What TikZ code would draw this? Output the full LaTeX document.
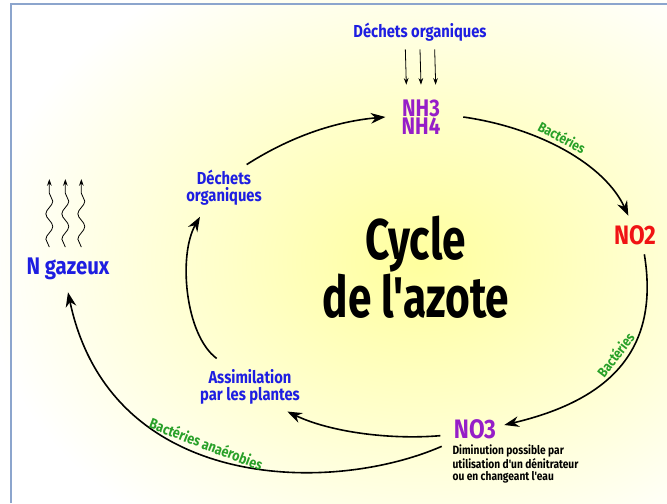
\documentclass[tikz,border=0pt]{standalone}
\usepackage{fontspec}
\usepackage{xcolor}
\usetikzlibrary{arrows.meta,decorations.pathmorphing}
\newfontfamily\comicfont[FakeStretch=0.85]{Fira Sans}
\newfontfamily\titlefont[FakeStretch=0.74]{Fira Sans}
\definecolor{DechetBlue}{RGB}{30,30,225}
\definecolor{AmmoPurple}{RGB}{150,30,200}
\definecolor{NitriteRed}{RGB}{240,20,20}
\definecolor{BactGreen}{RGB}{40,160,40}
\definecolor{FrameBlue}{RGB}{140,165,205}
\tikzset{
    lbl/.style={inner sep=1pt, align=center},
    bluelbl/.style={lbl, text=DechetBlue, font=\comicfont\bfseries\fontsize{13}{13}\selectfont},
    ionlbl/.style={lbl, font=\comicfont\bfseries\fontsize{20}{20}\selectfont},
    cyclearrow/.style={line width=1.2pt, -{Stealth[length=11pt,width=8pt]}},
    droparrow/.style={line width=0.6pt, -{Stealth[length=5pt,width=3.5pt]}},
    gasarrow/.style={line width=0.6pt, -{Stealth[length=5pt,width=3.5pt]},
        decorate, decoration={snake, amplitude=2.6pt, segment length=19pt, post length=5pt}},
    bactlbl/.style={sloped, above, inner sep=3pt, text=BactGreen,
        font=\comicfont\bfseries\fontsize{10.5}{10.5}\selectfont}
}
\begin{document}
\begin{tikzpicture}[x=0.75pt,y=-0.75pt]
                    \useasboundingbox (0,0) rectangle (667,503);
                    \shade[inner color=yellow!38, outer color=white] (420,262) ellipse [x radius=440, y radius=330];
                    \draw[FrameBlue, line width=0.8pt] (11,503) -- (11,4) -- (667,4);
%                    labels
                    \node[bluelbl] (dtop) at (420,32) {Déchets organiques};
                    \node[ionlbl, text=AmmoPurple, font=\comicfont\bfseries\fontsize{18}{13.5}\selectfont] (nh) at (421,117) {NH3\\NH4};
                    \node[ionlbl, text=NitriteRed] (no2) at (635,235) {NO2};
                    \node[ionlbl, text=AmmoPurple] (no3) at (475,429) {NO3};
                    \node[lbl, anchor=north west, align=left, font=\comicfont\bfseries\fontsize{9}{9.3}\selectfont] (note) at (451,443)
                        {Diminution possible par\\utilisation d'un dénitrateur\\ou en changeant l'eau};
                    \node[bluelbl] (assim) at (250,387) {Assimilation\\par les plantes};
                    \node[bluelbl] (dleft) at (224,188) {Déchets\\organiques};
                    \node[lbl, text=DechetBlue, font=\comicfont\bfseries\fontsize{18}{18}\selectfont] (ngaz) at (68,269) {N gazeux};
                    \node[lbl, font=\titlefont\bfseries\fontsize{43}{43.5}\selectfont] (title) at (416,267) {Cycle\\de l'azote};

%                    the cycle
                    \draw[cyclearrow] ([xshift=16pt]nh.east) .. controls (540,128) and (605,165) ..
                        node[bactlbl, pos=0.45] {Bactéries} ([xshift=-5pt,yshift=6pt]no2.north);
                    \draw[cyclearrow] ([xshift=7pt,yshift=-6pt]no2.south) .. controls (660,350) and (610,400) ..
                        node[bactlbl, pos=0.47] {Bactéries} ([xshift=5pt,yshift=3pt]no3.east);
                    \draw[cyclearrow] ([xshift=-9pt,yshift=-5pt]no3.west) .. controls (390,440) and (330,432) ..
                        ([xshift=28pt,yshift=-4pt]assim.south);
                    \draw[cyclearrow] ([xshift=-25pt,yshift=7pt]assim.north) .. controls (185,335) and (178,255) ..
                        ([xshift=-18pt,yshift=-7pt]dleft.south);
                    \draw[cyclearrow] ([xshift=17pt,yshift=3pt]dleft.north) .. controls (285,140) and (330,122) ..
                        ([xshift=-11pt]nh.west);
                    \draw[cyclearrow] ([xshift=-8pt,yshift=-13pt]no3.west) .. controls (330,495) and (110,492) ..
                        node[bactlbl, pos=0.56, font=\comicfont\bfseries\fontsize{11}{11}\selectfont] {Bactéries anaérobies} ([yshift=-8pt]ngaz.south);

%                    inputs and outputs
                    \foreach \dx in {-11,0,11} {
                        \draw[droparrow] ([xshift=\dx pt,yshift=-5pt]dtop.south) -- ([xshift=\dx pt,yshift=10pt]nh.north);
                    }
                    \foreach \dx in {-14,-2,10} {
                        \draw[gasarrow] ([xshift=\dx pt,yshift=7pt]ngaz.north) -- ([xshift=\dx pt,yshift=58pt]ngaz.north);
                    }
                \end{tikzpicture}
\end{document}
